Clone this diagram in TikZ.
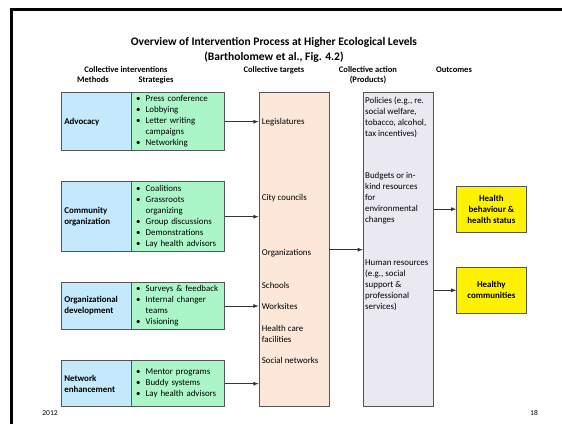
\documentclass[tikz,border=0pt]{standalone}
\usepackage{fontspec}
\setmainfont{Carlito}
\usepackage{tikz}
\usetikzlibrary{arrows}

\definecolor{methfill}{HTML}{C4E8FC}
\definecolor{stratfill}{HTML}{AAF6C8}
\definecolor{tgtfill}{HTML}{FCE7D8}
\definecolor{actfill}{HTML}{EAE8F1}
\definecolor{boxline}{HTML}{555555}

\newcommand{\stbul}{\makebox[9.7pt][l]{\textbullet}}
\newcommand{\stind}{\hspace*{9.7pt}}

\begin{document}
\begin{tikzpicture}[x=1pt,y=-1pt,
    every node/.style={font=\fontsize{8.9}{11}\selectfont},
    methbox/.style={draw=boxline,thick,fill=methfill,minimum width=70pt,
      inner xsep=2.6pt,text width=64.8pt,align=left,
      font=\fontsize{8.9}{11}\selectfont\bfseries},
    stratbox/.style={draw=boxline,thick,fill=stratfill,minimum width=92.6pt,
      inner xsep=4.3pt,text width=84pt,align=left},
    colbox/.style={draw=boxline,thick,minimum width=70pt,minimum height=314pt},
    outbox/.style={draw=boxline,thick,fill=yellow,minimum width=69.3pt,
      minimum height=46pt,align=center,font=\fontsize{8.9}{11}\selectfont\bfseries},
    head/.style={align=center,font=\fontsize{8.5}{10}\selectfont\bfseries},
    lbl/.style={anchor=west,inner sep=0pt,align=left},
    arr/.style={-latex,thick,black!80}]
  \useasboundingbox (0,0) rectangle (562,424);

  % slide frame
  \draw[line width=3pt] (11.5,424) -- (11.5,9.5) -- (562,9.5);

  % title
  \node[align=center,font=\fontsize{11.5}{15}\selectfont\bfseries] (title) at (274,49.5)
    {Overview of Intervention Process at Higher Ecological Levels\\(Bartholomew et al., Fig. 4.2)};

  % column heads
  \node[head] (hci) at (126,70) {Collective interventions};
  \node[head] (hmeth) at (93,80) {Methods};
  \node[head] (hstrat) at (156,80) {Strategies};
  \node[head] (htgt) at (274,70) {Collective targets};
  \node[head] (hact) at (368,75) {Collective action\\(Products)};
  \node[head] (hout) at (454,70) {Outcomes};

  % methods and strategies
  \node[methbox,minimum height=58pt] (advm) at (96.7,121.7) {Advocacy};
  \node[stratbox,minimum height=58pt] (advs) at (178,121.7)
    {\stbul Press conference\\\stbul Lobbying\\\stbul Letter writing\\\stind campaigns\\\stbul Networking};

  \node[methbox,minimum height=70pt] (comm) at (96.7,216.7) {Community\\organization};
  \node[stratbox,minimum height=70pt] (coms) at (178,216.7)
    {\stbul Coalitions\\\stbul Grassroots\\\stind organizing\\\stbul Group discussions\\\stbul Demonstrations\\\stbul Lay health advisors};

  \node[methbox,minimum height=46.6pt] (orgm) at (96.7,306) {Organizational\\development};
  \node[stratbox,minimum height=46.6pt] (orgs) at (178,306)
    {\stbul Surveys \& feedback\\\stbul Internal changer\\\stind teams\\\stbul Visioning};

  \node[methbox,minimum height=46pt] (netm) at (96.7,383.7) {Network\\enhancement};
  \node[stratbox,minimum height=46pt] (nets) at (178,383.7)
    {\stbul Mentor programs\\\stbul Buddy systems\\\stbul Lay health advisors};

  % collective targets
  \node[colbox,fill=tgtfill] (tgt) at (294,249.7) {};
  \node[lbl] (leg) at (261.7,122.3) {Legislatures};
  \node[lbl] (city) at (261.7,198.3) {City councils};
  \node[lbl] (orgn) at (261.7,252.7) {Organizations};
  \node[lbl] (sch) at (261.7,285) {Schools};
  \node[lbl] (work) at (261.7,306.7) {Worksites};
  \node[lbl] (hcare) at (261.7,333.5) {Health care\\facilities};
  \node[lbl] (soc) at (261.7,360.7) {Social networks};

  % collective action
  \node[colbox,fill=actfill] (act) at (398.3,249.7) {};
  \node[lbl] (pol) at (365,116.9) {Policies (e.g., re.\\social welfare,\\tobacco, alcohol,\\tax incentives)};
  \node[lbl] (bud) at (365,198.3) {Budgets or in-\\kind resources\\for\\environmental\\changes};
  \node[lbl] (hum) at (365,285.2) {Human resources\\(e.g., social\\support \&\\professional\\services)};

  % outcomes
  \node[outbox,minimum height=46.3pt] (hb) at (491.35,209.15) {Health\\behaviour \&\\health status};
  \node[outbox] (hc) at (491.35,290.3) {Healthy\\communities};

  % connectors
  \draw[arr] (advs.east) -- (advs.east -| tgt.west);
  \draw[arr] (coms.east) -- (coms.east -| tgt.west);
  \draw[arr] (orgs.east) -- (orgs.east -| tgt.west);
  \draw[arr] (nets.east) -- (nets.east -| tgt.west);
  \draw[arr] (tgt.east) -- (act.west);
  \draw[arr] (hb.west -| act.east) -- (hb.west);
  \draw[arr] (hc.west -| act.east) -- (hc.west);

  % footer
  \node[font=\fontsize{7.5}{9}\selectfont] (year) at (50,413) {2012};
  \node[font=\fontsize{7.5}{9}\selectfont] (page) at (534,413) {18};
\end{tikzpicture}
\end{document}
